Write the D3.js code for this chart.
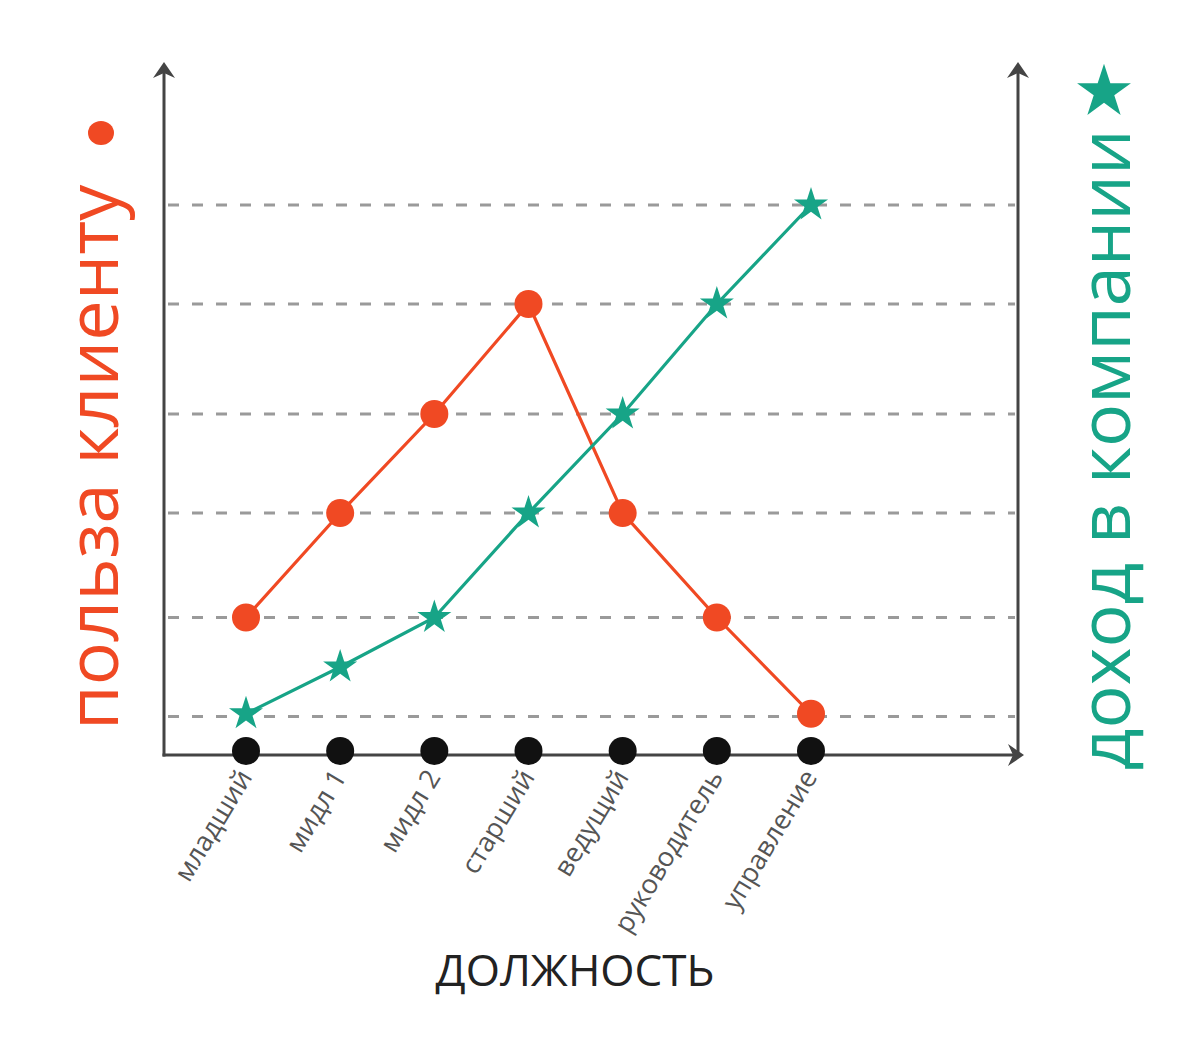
<!DOCTYPE html>
<html><head><meta charset="utf-8">
<script src="https://cdn.jsdelivr.net/npm/d3@7"></script>
<style>html,body{margin:0;padding:0;background:#fff;}svg{display:block;}</style>
</head><body>
<script>
const categories = ["младший","мидл 1","мидл 2","старший","ведущий","руководитель","управление"];
const benefitValues = [25, 44, 62, 82, 44, 25, 7.5];   // польза клиенту
const incomeValues  = [7.5, 16, 25, 44, 62, 82, 100];  // доход в компании
const gridLevels = [7, 25, 44, 62, 82, 100];
const xTitle = "ДОЛЖНОСТЬ";
const leftTitle = "польза клиенту";
const rightTitle = "доход в компании";

const W = 1200, H = 1039;
const ORANGE = "#f04923", GREEN = "#17a487", AXIS = "#444", GRID = "#9a9a9a";
const svg = d3.select("body").append("svg").attr("width", W).attr("height", H);

const x = d3.scalePoint().domain(categories).range([246, 811]);
const y = d3.scaleLinear().domain([0, 100]).range([755, 205]);
const x0 = 164, x1 = 1018, yBase = y(0), yTop = 70;

// grid
svg.append("g").selectAll("line").data(gridLevels).join("line")
  .attr("x1", x0 + 4).attr("x2", x1 - 3)
  .attr("y1", d => y(d)).attr("y2", d => y(d))
  .attr("stroke", GRID).attr("stroke-width", 3).attr("stroke-dasharray", "11 13");

// axes
const ax = svg.append("g").attr("stroke", AXIS).attr("stroke-width", 3).attr("fill", "none");
ax.append("line").attr("x1", x0).attr("x2", x0).attr("y1", yBase + 1.5).attr("y2", yTop);
ax.append("line").attr("x1", x1).attr("x2", x1).attr("y1", yBase + 1.5).attr("y2", yTop);
ax.append("line").attr("x1", x0 - 1.5).attr("x2", x1 + 2).attr("y1", yBase).attr("y2", yBase);
function upArrow(cx, tipY) {
  svg.append("path").attr("fill", AXIS)
    .attr("d", `M${cx},${tipY} L${cx+11},${tipY+16} L${cx},${tipY+11} L${cx-11},${tipY+16} Z`);
}
upArrow(x0, 62); upArrow(x1, 62);
svg.append("path").attr("fill", AXIS)
  .attr("d", `M${x1+6},${yBase} L${x1-10},${yBase-11} L${x1-5},${yBase} L${x1-10},${yBase+11} Z`);

// category dots
svg.append("g").selectAll("circle").data(categories).join("circle")
  .attr("cx", d => x(d)).attr("cy", yBase - 4).attr("r", 14).attr("fill", "#111");

// category labels
svg.append("g").selectAll("text").data(categories).join("text")
  .attr("transform", d => `translate(${x(d) + 7},${yBase + 22}) rotate(-59)`)
  .attr("text-anchor", "end")
  .attr("font-family", "'Open Sans', sans-serif").attr("font-size", 27)
  .attr("fill", "#555").text(d => d);

// x title
svg.append("text").attr("x", 575).attr("y", 986).attr("text-anchor", "middle")
  .attr("font-family", "'Open Sans', sans-serif").attr("font-size", 44)
  .attr("fill", "#222").text(xTitle);

// lines
const line = d3.line().x((d, i) => x(categories[i])).y(d => y(d));
svg.append("path").datum(benefitValues).attr("d", line).attr("fill", "none")
  .attr("stroke", ORANGE).attr("stroke-width", 3.2);
svg.append("path").datum(incomeValues).attr("d", line).attr("fill", "none")
  .attr("stroke", GREEN).attr("stroke-width", 3.2);

// markers
svg.append("g").selectAll("circle").data(benefitValues).join("circle")
  .attr("cx", (d, i) => x(categories[i])).attr("cy", d => y(d)).attr("r", 14).attr("fill", ORANGE);
const star = d3.symbol().type(d3.symbolStar).size(360);
svg.append("g").selectAll("path").data(incomeValues).join("path")
  .attr("transform", (d, i) => `translate(${x(categories[i])},${y(d)})`)
  .attr("d", star).attr("fill", GREEN);

// left title
svg.append("text").attr("transform", "translate(118,730) rotate(-90)")
  .attr("font-family", "'Open Sans', sans-serif").attr("font-size", 72)
  .attr("fill", ORANGE).text(leftTitle);
svg.append("ellipse").attr("cx", 101).attr("cy", 133).attr("rx", 13).attr("ry", 12).attr("fill", ORANGE);

// right title
svg.append("text").attr("transform", "translate(1130,770) rotate(-90)")
  .attr("font-family", "'Open Sans', sans-serif").attr("font-size", 72)
  .attr("fill", GREEN).text(rightTitle);
svg.append("path").attr("transform", "translate(1104,92)")
  .attr("d", d3.symbol().type(d3.symbolStar).size(900)).attr("fill", GREEN);
</script>
</body></html>
